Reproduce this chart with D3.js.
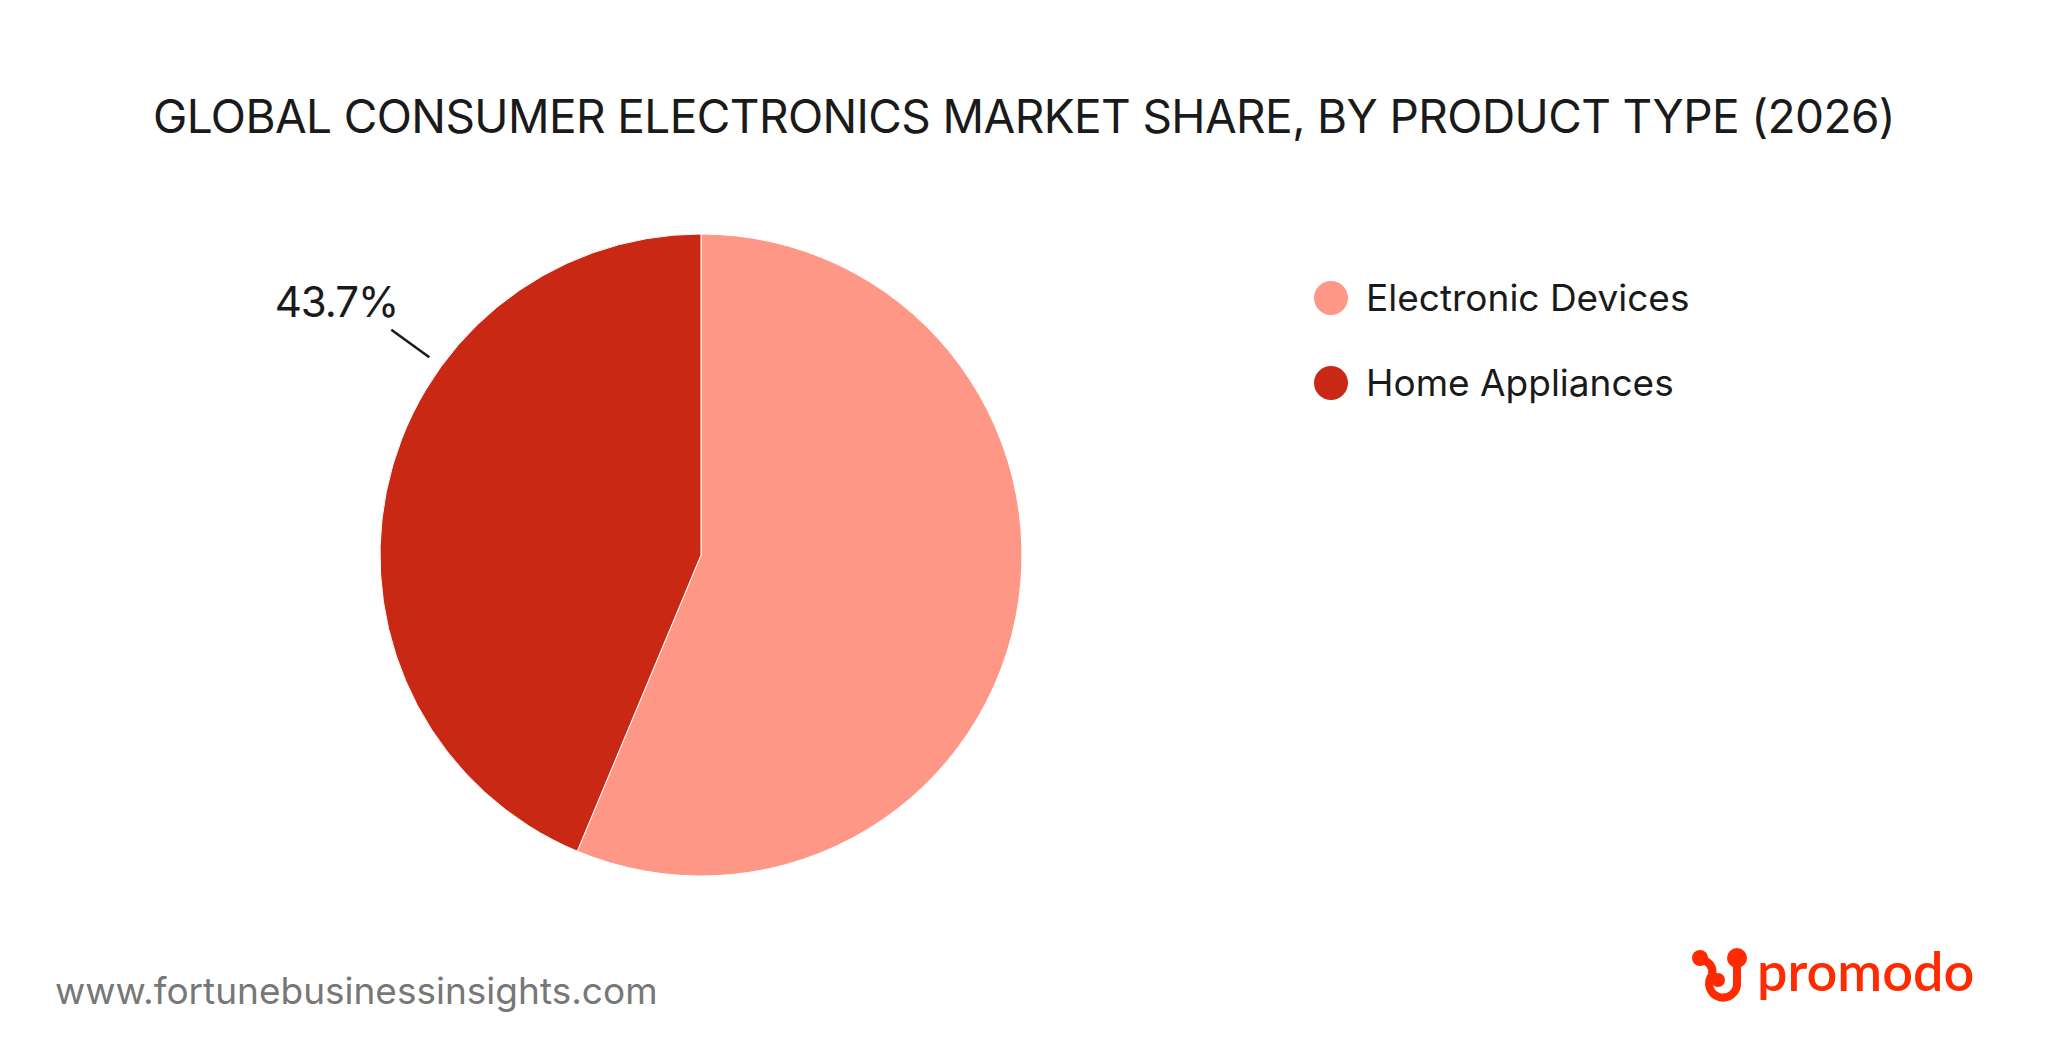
<!DOCTYPE html>
<html><head><meta charset="utf-8">
<script src="https://d3js.org/d3.v7.min.js"></script>
<style>body{margin:0;background:#fff}svg{display:block}</style>
</head><body>
<script>
const categories = ["Electronic Devices", "Home Appliances"];
const values = [56.3, 43.7];
const colors = ["#FF9787", "#C82814"];
const labels = [null, "43.7%"];
const title = "GLOBAL CONSUMER ELECTRONICS MARKET SHARE, BY PRODUCT TYPE (2026)";

const W = 2048, H = 1057;
const svg = d3.select("body").append("svg").attr("width", W).attr("height", H);
const font = "Inter, 'Open Sans', sans-serif";

svg.append("text").attr("x", 1024).attr("y", 133).attr("text-anchor", "middle")
  .attr("font-family", font).attr("font-size", 46).attr("fill", "#1a1a1a")
  .attr("letter-spacing", -0.6).text(title);

const cx = 701, cy = 555, r = 321;
const pie = d3.pie().sort(null).value(d => d)(values);
const arc = d3.arc().innerRadius(0).outerRadius(r);
const g = svg.append("g").attr("transform", `translate(${cx},${cy})`);
g.selectAll("path").data(pie).join("path").attr("d", arc)
  .attr("fill", (d, i) => colors[i]).attr("stroke", "#fff").attr("stroke-width", 1);

pie.forEach((d, i) => {
  if (!labels[i]) return;
  const a = d.startAngle + 0.657 * (d.endAngle - d.startAngle);
  const p1 = [Math.sin(a) * (r + 15), -Math.cos(a) * (r + 15)];
  const p2 = [Math.sin(a) * (r + 62), -Math.cos(a) * (r + 62)];
  g.append("line").attr("x1", p1[0]).attr("y1", p1[1]).attr("x2", p2[0]).attr("y2", p2[1])
    .attr("stroke", "#1a1a1a").attr("stroke-width", 2.5);
  g.append("text").attr("x", p2[0] + 7).attr("y", p2[1] - 13).attr("text-anchor", "end")
    .attr("font-family", font).attr("font-size", 42).attr("fill", "#1a1a1a")
    .attr("letter-spacing", -1).text(labels[i]);
});

const leg = svg.append("g");
categories.forEach((c, i) => {
  const y = 298 + i * 85;
  leg.append("circle").attr("cx", 1331).attr("cy", y).attr("r", 17).attr("fill", colors[i]);
  leg.append("text").attr("x", 1366).attr("y", y + 13).attr("font-family", font)
    .attr("font-size", 37).attr("fill", "#1a1a1a").text(c);
});

svg.append("text").attr("x", 55).attr("y", 1004).attr("font-family", font)
  .attr("font-size", 37).attr("fill", "#777").text("www.fortunebusinessinsights.com");

// promodo logo
const lg = svg.append("g").attr("fill", "#FF2A00");
lg.append("circle").attr("cx", 1700).attr("cy", 958).attr("r", 8);
lg.append("circle").attr("cx", 1737).attr("cy", 958).attr("r", 10);
lg.append("path").attr("d", "M1700 958 Q1715 964 1712 975 A14 14 0 1 0 1737 982 L1737 958")
  .attr("fill", "none").attr("stroke", "#FF2A00").attr("stroke-width", 8).attr("stroke-linecap", "round");
lg.append("circle").attr("cx", 1718).attr("cy", 980).attr("r", 7);
lg.append("text").attr("x", 1757).attr("y", 991).attr("font-family", "Lato, Inter, sans-serif")
  .attr("font-size", 54).attr("font-weight", 600).attr("text-anchor", "start").text("promodo");
</script>
</body></html>
